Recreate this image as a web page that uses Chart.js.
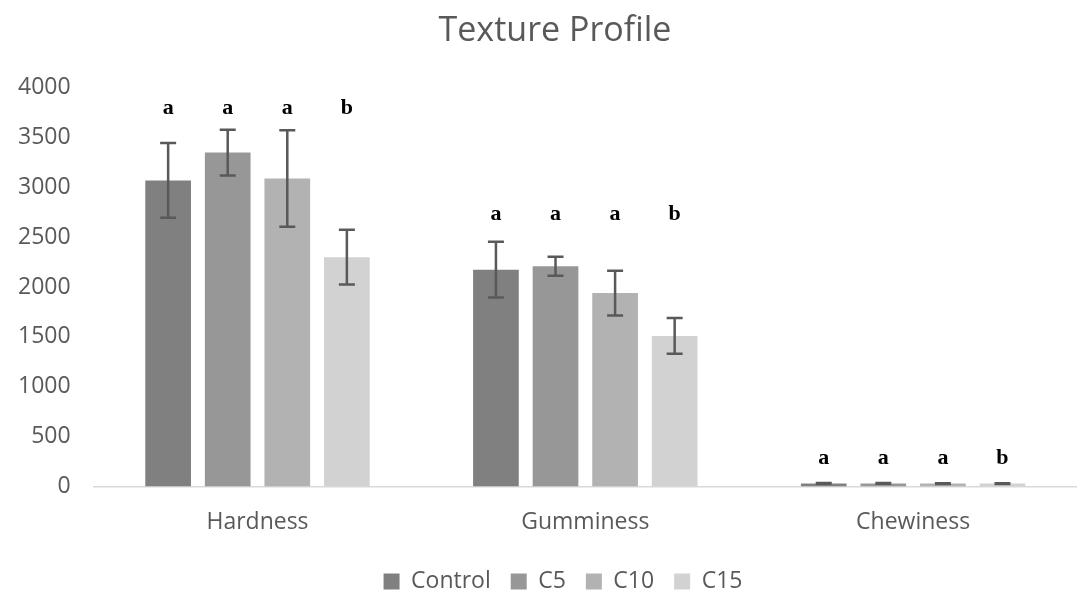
<!DOCTYPE html>
<html>
<head>
<meta charset="utf-8">
<script src="https://cdn.jsdelivr.net/npm/chart.js@4/dist/chart.umd.min.js"></script>
<style>
  html, body { margin: 0; padding: 0; background: #fff; }
  #wrap { width: 1077px; height: 595px; }
</style>
</head>
<body>
<div id="wrap"><canvas id="grafica"></canvas></div>
<script>
// Datos de la gráfica
const categorias = ["Hardness", "Gumminess", "Chewiness"];
const series = ["Control", "C5", "C10", "C15"];
const control = [3070, 2175, 30];
const c5 = [3350, 2210, 30];
const c10 = [3090, 1940, 28];
const c15 = [2300, 1510, 28];
const errControl = [375, 280, 4];
const errC5 = [230, 95, 4];
const errC10 = [485, 225, 4];
const errC15 = [275, 180, 4];
const letras = ["a", "a", "a", "b"];
const alturaLetras = [3790, 2735, 280];
const yTicks = [0, 500, 1000, 1500, 2000, 2500, 3000, 3500, 4000];

const colores = ["#808080", "#979797", "#b2b2b2", "#d2d2d2"];
const valores = [control, c5, c10, c15];
const errores = [errControl, errC5, errC10, errC15];

// Plugin para barras de error y letras
const errorBars = {
  id: "errorBars",
  afterDatasetsDraw(chart) {
    const ctx = chart.ctx;
    const y = chart.scales.y;
    ctx.save();
    chart.data.datasets.forEach((ds, d) => {
      const meta = chart.getDatasetMeta(d);
      meta.data.forEach((bar, i) => {
        const v = ds.data[i];
        const e = errores[d][i];
        const top = y.getPixelForValue(v + e);
        const bot = y.getPixelForValue(v - e);
        ctx.strokeStyle = "#595959";
        ctx.lineWidth = 2.5;
        ctx.beginPath();
        ctx.moveTo(bar.x, top);
        ctx.lineTo(bar.x, bot);
        ctx.moveTo(bar.x - 8, top);
        ctx.lineTo(bar.x + 8, top);
        ctx.moveTo(bar.x - 8, bot);
        ctx.lineTo(bar.x + 8, bot);
        ctx.stroke();
        // letra de significancia
        ctx.fillStyle = "#000";
        ctx.font = "bold 22px 'Liberation Serif'";
        ctx.textAlign = "center";
        ctx.textBaseline = "middle";
        ctx.fillText(letras[d], bar.x, y.getPixelForValue(alturaLetras[i]));
      });
    });
    ctx.restore();
  },
};

// Desplazar título y leyenda un poco a la derecha (como en el original)
const desplazar = {
  id: "desplazar",
  afterLayout(chart) {
    [[chart.titleBlock, 10], [chart.legend, 18]].forEach(([box, dx]) => {
      if (!box || box._movido) return;
      const orig = box.draw.bind(box);
      box.draw = (area) => {
        chart.ctx.save();
        chart.ctx.translate(dx, 0);
        orig(area);
        chart.ctx.restore();
      };
      box._movido = true;
    });
  },
};

new Chart(document.getElementById("grafica"), {
  type: "bar",
  data: {
    labels: categorias,
    datasets: series.map((s, d) => ({
      label: s,
      data: valores[d],
      backgroundColor: colores[d],
      categoryPercentage: 0.727,
      barPercentage: 0.767,
    })),
  },
  options: {
    responsive: true,
    maintainAspectRatio: false,
    animation: false,
    layout: { padding: { left: 3, right: -10, top: 0, bottom: -8 } },
    scales: {
      x: {
        grid: { display: false },
        border: { display: true, color: "#d9d9d9", width: 1.5 },
        ticks: { color: "#595959", font: { family: "Open Sans", size: 23 }, padding: 14 },
      },
      y: {
        min: 0,
        max: 4000,
        afterBuildTicks: (axis) => { axis.ticks = yTicks.map((v) => ({ value: v })); },
        grid: { display: false },
        border: { display: false },
        ticks: {
          color: "#595959",
          font: { family: "Open Sans", size: 23 },
          padding: 15,
          callback: (v) => String(v),
        },
      },
    },
    plugins: {
      title: {
        display: true,
        text: "Texture Profile",
        color: "#595959",
        font: { family: "Open Sans", size: 34, weight: "normal" },
        padding: { top: 11, bottom: 36 },
      },
      legend: {
        position: "bottom",
        labels: {
          color: "#595959",
          font: { family: "Open Sans", size: 23 },
          boxWidth: 16,
          boxHeight: 16,
          padding: 20,
        },
      },
      tooltip: { enabled: false },
    },
  },
  plugins: [errorBars, desplazar],
});
</script>
</body>
</html>
